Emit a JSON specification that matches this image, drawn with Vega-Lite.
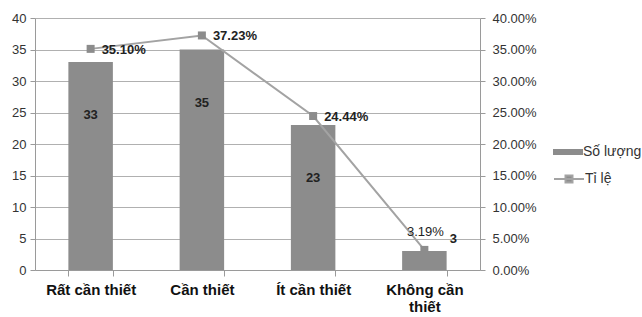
{
  "$schema": "https://vega.github.io/schema/vega-lite/v6.json",
  "width": 445,
  "height": 252,
  "autosize": "none",
  "padding": {"left": 35, "top": 18, "right": 162, "bottom": 47},
  "background": "white",
  "data": {
    "values": [
      {"category": "Rất cần thiết", "count": 33, "pct": 0.351, "pctLabel": "35.10%"},
      {"category": "Cần thiết", "count": 35, "pct": 0.3723, "pctLabel": "37.23%"},
      {"category": "Ít cần thiết", "count": 23, "pct": 0.2444, "pctLabel": "24.44%"},
      {"category": "Không cần thiết", "count": 3, "pct": 0.0319, "pctLabel": "3.19%"}
    ]
  },
  "config": {
    "view": {"stroke": null},
    "font": "Liberation Sans",
    "axisY": {"tickCount": 8}
  },
  "encoding": {
    "x": {
      "field": "category",
      "type": "nominal",
      "sort": null,
      "scale": {"paddingInner": 0.6, "paddingOuter": 0.3},
      "axis": {
        "title": null,
        "labelAngle": 0,
        "labelFont": "Liberation Sans",
        "labelFontSize": 15,
        "labelFontWeight": "bold",
        "labelColor": "#111111",
        "labelPadding": 6,
        "labelLineHeight": 17,
        "labelExpr": "datum.value == 'Không cần thiết' ? ['Không cần', 'thiết'] : datum.value",
        "tickBand": "extent",
        "tickSize": 6,
        "tickColor": "#9a9a9a",
        "domainColor": "#9a9a9a",
        "grid": false
      }
    }
  },
  "layer": [
    {
      "encoding": {
        "y": {
          "field": "count",
          "type": "quantitative",
          "scale": {"domain": [0, 40], "nice": false},
          "axis": {
            "title": null,
            "tickCount": 8,
            "tickMinStep": 5,
            "labelOverlap": false,
            "labelFontSize": 13,
            "labelColor": "#333333",
            "labelPadding": 4,
            "tickSize": 5,
            "tickColor": "#9a9a9a",
            "domainColor": "#9a9a9a",
            "gridColor": "#b0b0b0",
            "grid": true
          }
        }
      },
      "layer": [
        {
          "mark": {"type": "bar", "color": "#8c8c8c"},
          "encoding": {
            "fill": {
              "datum": "Số lượng",
              "scale": {"range": ["#8c8c8c"]},
              "legend": {
                "title": null,
                "orient": "none",
                "legendX": 523,
                "legendY": 124,
                "symbolType": "M-1.5,-0.3H1.5V0.3H-1.5Z",
                "symbolSize": 400,
                "symbolStrokeWidth": 0,
                "labelFontSize": 14,
                "labelColor": "#333333",
                "labelOffset": 5
              }
            }
          }
        },
        {
          "transform": [{"filter": "datum.count > 10"}],
          "mark": {"type": "text", "baseline": "top", "dy": 47, "fontSize": 13, "fontWeight": "bold", "color": "#222222"},
          "encoding": {
            "text": {"field": "count", "type": "quantitative"}
          }
        },
        {
          "transform": [{"filter": "datum.count <= 10"}],
          "mark": {"type": "text", "baseline": "middle", "dx": 29, "dy": -12, "fontSize": 13, "fontWeight": "bold", "color": "#222222"},
          "encoding": {
            "text": {"field": "count", "type": "quantitative"}
          }
        }
      ]
    },
    {
      "encoding": {
        "y": {
          "field": "pct",
          "type": "quantitative",
          "scale": {"domain": [0, 0.4], "nice": false},
          "axis": {
            "title": null,
            "orient": "right",
            "tickCount": 8,
            "labelOverlap": false,
            "format": ".2%",
            "labelFontSize": 13,
            "labelColor": "#333333",
            "labelPadding": 7,
            "tickSize": 5,
            "tickColor": "#9a9a9a",
            "domainColor": "#9a9a9a",
            "grid": false
          }
        }
      },
      "layer": [
        {
          "mark": {"type": "line", "strokeWidth": 2, "color": "#a3a3a3"},
          "encoding": {
            "stroke": {
              "datum": "Tỉ lệ",
              "scale": {"range": ["#a3a3a3"]},
              "legend": {
                "title": null,
                "orient": "none",
                "legendX": 523,
                "legendY": 150,
                "symbolType": "M-1.5,0H1.5M-0.35,-0.35H0.35V0.35H-0.35Z",
                "symbolSize": 400,
                "symbolStrokeWidth": 2,
                "symbolFillColor": "#8c8c8c",
                "labelFontSize": 14,
                "labelColor": "#333333",
                "labelOffset": 5
              }
            }
          }
        },
        {
          "mark": {"type": "square", "size": 64, "color": "#8c8c8c", "opacity": 1, "filled": true}
        },
        {
          "transform": [{"filter": "datum.pct > 0.1"}],
          "mark": {"type": "text", "align": "left", "baseline": "middle", "dx": 11, "dy": 1, "fontSize": 13, "fontWeight": "bold", "color": "#222222"},
          "encoding": {
            "text": {"field": "pctLabel", "type": "nominal"}
          }
        },
        {
          "transform": [{"filter": "datum.pct <= 0.1"}],
          "mark": {"type": "text", "align": "center", "baseline": "middle", "dx": 1, "dy": -18, "fontSize": 13, "color": "#222222"},
          "encoding": {
            "text": {"field": "pctLabel", "type": "nominal"}
          }
        }
      ]
    }
  ],
  "resolve": {"scale": {"y": "independent"}}
}
